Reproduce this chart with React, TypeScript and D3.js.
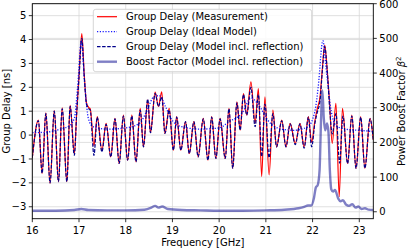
import React from "react";
import * as d3 from "d3";

const measFreq = [16.0, 16.13, 16.21, 16.29, 16.38, 16.47, 16.56, 16.64, 16.74, 16.81, 16.9, 16.95, 17.0, 17.06, 17.11, 17.16, 17.21, 17.24, 17.32, 17.39, 17.49, 17.58, 17.68, 17.77, 17.86, 17.95, 18.04, 18.13, 18.22, 18.31, 18.38, 18.47, 18.53, 18.63, 18.7, 18.77, 18.84, 18.93, 19.02, 19.09, 19.18, 19.28, 19.36, 19.46, 19.55, 19.66, 19.76, 19.84, 19.93, 20.02, 20.13, 20.21, 20.29, 20.38, 20.45, 20.52, 20.59, 20.68, 20.77, 20.84, 20.91, 20.98, 21.07, 21.15, 21.23, 21.34, 21.43, 21.52, 21.63, 21.73, 21.82, 21.91, 21.98, 22.05, 22.1, 22.16, 22.21, 22.26, 22.31, 22.36, 22.42, 22.5, 22.57, 22.64, 22.75, 22.84, 22.93, 23.03, 23.12, 23.23, 23.3];
const measDelay = [-0.95, 0.63, -1.6, 0.93, -2.02, 1.02, -1.95, 1.14, -1.95, 1.25, -0.77, 0.9, 2.5, 4.25, 2.6, 1.35, 1.15, 1.1, -0.45, 0.77, -0.63, 0.49, -0.91, 0.7, -1.19, 0.84, -1.05, 0.84, -1.12, 1.12, -0.49, 1.46, 0.1, 1.8, 1.2, 1.81, 0.07, 1.12, -0.63, 0.77, -0.63, 0.56, -0.77, 0.56, -0.91, 0.7, -1.05, 0.77, -0.98, 0.7, -0.98, 1.12, -1.39, 1.39, 0.21, 1.74, 0.84, 2.23, 0.5, 1.95, -1.74, 1.6, -1.67, 1.05, -0.49, 0.63, -0.49, 0.49, -0.35, 0.49, -0.49, 0.77, -0.3, 0.6, 1.1, 1.6, 2.8, 3.77, 2.8, 1.5, -0.35, 1.33, -2.58, 1.12, -1.19, 0.84, -1.39, 0.77, -1.39, 0.7, -0.2];

// model incl. reflection (navy dashed)
const reflFreq = [16.0, 16.13, 16.21, 16.29, 16.38, 16.47, 16.56, 16.64, 16.74, 16.81, 16.9, 16.95, 17.0, 17.06, 17.11, 17.16, 17.21, 17.24, 17.32, 17.39, 17.49, 17.58, 17.68, 17.77, 17.86, 17.95, 18.04, 18.13, 18.22, 18.31, 18.38, 18.47, 18.53, 18.63, 18.7, 18.77, 18.84, 18.93, 19.02, 19.09, 19.18, 19.28, 19.36, 19.46, 19.55, 19.66, 19.76, 19.84, 19.93, 20.02, 20.13, 20.21, 20.29, 20.38, 20.45, 20.52, 20.59, 20.68, 20.77, 20.84, 20.91, 20.98, 21.07, 21.15, 21.23, 21.34, 21.43, 21.52, 21.63, 21.73, 21.82, 21.91, 21.98, 22.05, 22.1, 22.16, 22.21, 22.26, 22.31, 22.37, 22.42, 22.5, 22.58, 22.65, 22.75, 22.84, 22.93, 23.03, 23.12, 23.23, 23.3];
const reflDelay = [-0.95, 0.6, -1.6, 0.9, -2.0, 1.0, -1.95, 1.1, -1.95, 1.2, -0.85, 0.9, 2.4, 4.05, 2.5, 1.3, 1.1, 1.05, -0.85, 0.75, -0.7, 0.45, -0.91, 0.68, -1.19, 0.8, -1.05, 0.8, -1.12, 1.05, -0.49, 1.5, 0.1, 1.75, 1.2, 1.6, 0.07, 1.05, -0.63, 0.75, -0.63, 0.56, -0.77, 0.56, -0.91, 0.68, -1.05, 0.75, -0.98, 0.68, -0.98, 1.1, -1.39, 1.35, 0.21, 1.7, 0.84, 2.0, 0.35, 1.7, -0.9, 1.3, -0.95, 0.9, -0.49, 0.6, -0.49, 0.47, -0.4, 0.47, -0.55, 0.75, -0.49, 0.5, 0.95, 1.45, 2.7, 3.7, 2.8, 1.0, 0.05, 0.9, -1.17, 0.8, -1.19, 0.8, -1.39, 0.75, -1.39, 0.68, -0.2];

// ideal model (blue dotted)
const idealFreq = [16.0, 16.3, 16.6, 16.8, 16.9, 16.97, 17.05, 17.12, 17.2, 17.3, 17.6, 18.0, 18.3, 18.45, 18.6, 18.72, 18.85, 19.0, 19.2, 19.6, 20.0, 20.2, 20.5, 20.68, 20.85, 21.05, 21.25, 21.6, 21.9, 22.05, 22.12, 22.22, 22.3, 22.4, 22.5, 22.7, 23.0, 23.3];
const idealDelay = [0.1, 0.12, 0.25, 0.4, 0.7, 2.0, 3.95, 2.2, 0.7, 0.35, 0.25, 0.3, 0.5, 1.0, 1.6, 1.65, 1.2, 0.6, 0.35, 0.25, 0.3, 0.55, 0.95, 1.55, 1.25, 0.6, 0.3, 0.2, 0.35, 1.0, 2.0, 3.95, 2.6, 1.0, 0.4, 0.25, 0.2, 0.15];

// boost factor (right axis)
const boostFreq = [16.0, 16.5, 16.9, 17.05, 17.2, 17.6, 18.0, 18.4, 18.55, 18.63, 18.7, 18.78, 18.9, 19.2, 19.6, 20.0, 20.5, 21.0, 21.4, 21.7, 21.82, 21.9, 21.97, 22.03, 22.07, 22.11, 22.15, 22.18, 22.21, 22.24, 22.27, 22.31, 22.34, 22.37, 22.4, 22.44, 22.48, 22.55, 22.6, 22.65, 22.72, 22.78, 22.85, 22.92, 22.98, 23.05, 23.12, 23.2, 23.3];
const boostVal = [3, 3, 5, 8, 5, 4, 4, 6, 12, 17, 12, 15, 8, 5, 4, 3, 3, 4, 6, 10, 14, 18, 18, 40, 70, 77, 120, 260, 350, 270, 235, 255, 230, 120, 65, 58, 63, 38, 30, 33, 20, 17, 22, 12, 15, 8, 10, 6, 5];

const xTicks = [16, 17, 18, 19, 20, 21, 22, 23];
const leftTicks = [-3, -2, -1, 0, 1, 2, 3, 4, 5];
const rightTicks = [0, 100, 200, 300, 400, 500, 600];

const legendLabels = [
  "Group Delay (Measurement)",
  "Group Delay (Ideal Model)",
  "Group Delay (Model incl. reflection)",
  "Boost Factor (Model incl. reflection)",
];

const zip = (a: number[], b: number[]) => a.map((v, i) => [v, b[i]] as [number, number]);
const fmt = (v: number) => (v < 0 ? "\u2212" + Math.abs(v) : String(v));

export default function App() {
  const W = 416, H = 250;
  const left = 32.3, right = 373.3, top = 3.7, bottom = 218.7;
  const x = d3.scaleLinear().domain([16, 23.3]).range([left, right]);
  const yL = d3.scaleLinear().domain([-3.5, 5.5]).range([bottom, top]);
  const yR = d3.scaleLinear().domain([-20, 600]).range([bottom, top]);

  const lineL = d3.line<[number, number]>().x(d => x(d[0])).y(d => yL(d[1])).curve(d3.curveMonotoneX);
  const lineR = d3.line<[number, number]>().x(d => x(d[0])).y(d => yR(d[1])).curve(d3.curveMonotoneX);

  const font = "DejaVu Sans, sans-serif";
  const fs = 10;
  const styles = [
    { stroke: "#ff0000", w: 1.2, dash: undefined as string | undefined, op: 1 },
    { stroke: "#1a1aff", w: 1.3, dash: "1.2,1.6", op: 1 },
    { stroke: "#00008b", w: 1.2, dash: "3.5,1.6", op: 1 },
    { stroke: "#00008b", w: 2.4, dash: undefined, op: 0.5 },
  ];

  return (
    <svg width={W} height={H} style={{ position: "absolute", left: 0, top: 0 }} fontFamily={font}>
      <defs>
        <clipPath id="plot">
          <rect x={left} y={top} width={right - left} height={bottom - top} />
        </clipPath>
      </defs>
      <rect width={W} height={H} fill="white" />
      {/* grid */}
      <g stroke="#d8d8d8" strokeWidth={0.8}>
        {xTicks.map(t => <line key={"gx" + t} x1={x(t)} x2={x(t)} y1={top} y2={bottom} />)}
        {leftTicks.map(t => <line key={"gl" + t} x1={left} x2={right} y1={yL(t)} y2={yL(t)} />)}
        {rightTicks.map(t => <line key={"gr" + t} x1={left} x2={right} y1={yR(t)} y2={yR(t)} />)}
      </g>
      <g clipPath="url(#plot)" fill="none">
        <path d={lineL(zip(measFreq, measDelay)) || ""} stroke={styles[0].stroke} strokeWidth={styles[0].w} />
        <path d={lineL(zip(idealFreq, idealDelay)) || ""} stroke={styles[1].stroke} strokeWidth={styles[1].w} strokeDasharray={styles[1].dash} />
        <path d={lineL(zip(reflFreq, reflDelay)) || ""} stroke={styles[2].stroke} strokeWidth={styles[2].w} strokeDasharray={styles[2].dash} />
        <path d={lineR(zip(boostFreq, boostVal)) || ""} stroke={styles[3].stroke} strokeWidth={styles[3].w} strokeOpacity={styles[3].op} strokeLinejoin="round" />
      </g>
      {/* frame */}
      <rect x={left} y={top} width={right - left} height={bottom - top} fill="none" stroke="black" strokeWidth={0.9} />
      {/* x axis */}
      <g fontSize={fs} textAnchor="middle">
        {xTicks.map(t => (
          <g key={"xt" + t}>
            <line x1={x(t)} x2={x(t)} y1={bottom} y2={bottom + 3.5} stroke="black" strokeWidth={0.8} />
            <text x={x(t)} y={bottom + 15}>{t}</text>
          </g>
        ))}
      </g>
      <g fontSize={fs} textAnchor="end">
        {leftTicks.map(t => (
          <g key={"lt" + t}>
            <line x1={left - 3.5} x2={left} y1={yL(t)} y2={yL(t)} stroke="black" strokeWidth={0.8} />
            <text x={left - 6} y={yL(t) + 3.6}>{fmt(t)}</text>
          </g>
        ))}
      </g>
      <g fontSize={fs} textAnchor="start">
        {rightTicks.map(t => (
          <g key={"rt" + t}>
            <line x1={right} x2={right + 3.5} y1={yR(t)} y2={yR(t)} stroke="black" strokeWidth={0.8} />
            <text x={right + 6} y={Math.max(yR(t) + 3.6, 8.2)}>{t}</text>
          </g>
        ))}
      </g>
      <text x={(left + right) / 2} y={246} fontSize={fs} textAnchor="middle">Frequency [GHz]</text>
      <text transform={`translate(10,${(top + bottom) / 2}) rotate(-90)`} fontSize={fs} textAnchor="middle">Group Delay [ns]</text>
      <text transform={`translate(405,${(top + bottom) / 2}) rotate(-90)`} fontSize={fs} textAnchor="middle">
        Power Boost Factor <tspan fontStyle="italic">β</tspan><tspan dy={-4} fontSize={7}>2</tspan>
      </text>
      {/* legend */}
      <g>
        <rect x={93.3} y={9.3} width={218.4} height={62.4} rx={2.5} fill="white" fillOpacity={0.85} stroke="#cccccc" strokeWidth={0.8} />
        {legendLabels.map((lab, i) => {
          const yy = 16.7 + i * 15;
          const s = styles[i];
          return (
            <g key={lab}>
              <line x1={97} x2={117} y1={yy} y2={yy} stroke={s.stroke} strokeWidth={s.w} strokeDasharray={s.dash} strokeOpacity={s.op} />
              <text x={126} y={yy + 3.6} fontSize={fs}>{lab}</text>
            </g>
          );
        })}
      </g>
    </svg>
  );
}
